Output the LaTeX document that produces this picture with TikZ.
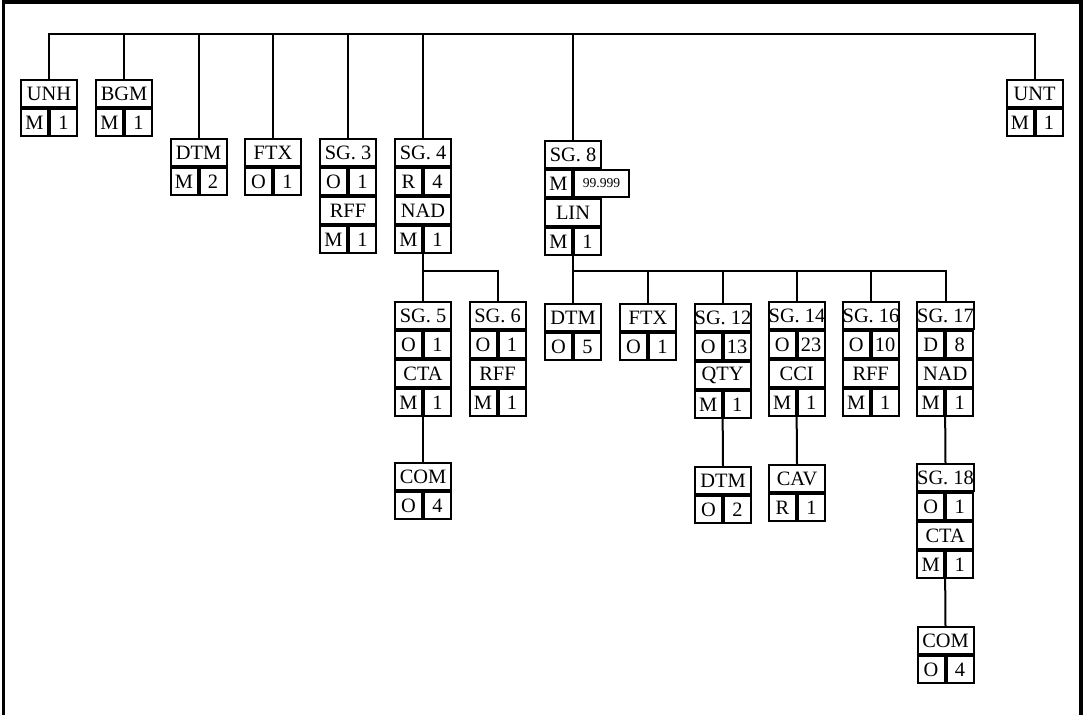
\documentclass[tikz,border=0pt]{standalone}
\usepackage{fontspec}
\setmainfont{Liberation Serif}
\usetikzlibrary{positioning}

\tikzset{
  tag/.style={draw, line width=1pt, minimum width=28pt, minimum height=13.5pt, inner sep=0pt},
  st/.style={draw, line width=1pt, minimum width=13.5pt, minimum height=13.5pt, inner sep=0pt},
  link/.style={line width=1pt},
}
% 段框: 名称 + 状态/次数
\newcommand{\segcell}[5]{%
  \node[tag, #2] (#1) {#3};
  \node[st, below right=0pt of #1.south west] (#1-s) {#4};
  \node[st, right=0pt of #1-s] (#1-r) {#5};}

\begin{document}
\begin{tikzpicture}[x=0.5pt, y=-0.5pt, font=\fontsize{10.2}{11}\selectfont]
  \useasboundingbox (0,0) rectangle (1083,715);
  % 外框
  \draw[line width=1.7pt] (3.3,715) -- (3.3,2) -- (1081,2) -- (1081,715);

  % 顶层段
  \segcell{unh}{at={(49,93.5)}}{UNH}{M}{1}
  \segcell{bgm}{at={(124,93.5)}}{BGM}{M}{1}
  \segcell{dtm}{at={(198.5,152.5)}}{DTM}{M}{2}
  \segcell{ftx}{at={(273,152.5)}}{FTX}{O}{1}
  \segcell{sg3}{at={(348,152.5)}}{SG. 3}{O}{1}
  \segcell{rff3}{below right=0pt of sg3-s.south west}{RFF}{M}{1}
  \segcell{sg4}{at={(423,152.5)}}{SG. 4}{R}{4}
  \segcell{nad4}{below right=0pt of sg4-s.south west}{NAD}{M}{1}
  % SG. 8
  \node[tag] (sg8) at (573,154.5) {SG. 8};
  \node[st, below right=0pt of sg8.south west] (sg8-s) {M};
  \node[st, minimum width=27.5pt, right=0pt of sg8-s, font=\fontsize{6.8}{7}\selectfont] (sg8-r) {99.999};
  \segcell{lin}{below right=0pt of sg8-s.south west}{LIN}{M}{1}
  \segcell{unt}{at={(1034.5,93.5)}}{UNT}{M}{1}

  % 第二层
  \segcell{sg5}{at={(423,315.5)}}{SG. 5}{O}{1}
  \segcell{cta5}{below right=0pt of sg5-s.south west}{CTA}{M}{1}
  \segcell{sg6}{at={(497.5,315.5)}}{SG. 6}{O}{1}
  \segcell{rff6}{below right=0pt of sg6-s.south west}{RFF}{M}{1}
  \segcell{dtm8}{at={(573,317.5)}}{DTM}{O}{5}
  \segcell{ftx8}{at={(648,317.5)}}{FTX}{O}{1}
  \segcell{sg12}{at={(723,317.5)}}{SG. 12}{O}{13}
  \segcell{qty}{below right=0pt of sg12-s.south west}{QTY}{M}{1}
  \segcell{sg14}{at={(797,315.5)}}{SG. 14}{O}{23}
  \segcell{cci}{below right=0pt of sg14-s.south west}{CCI}{M}{1}
  \segcell{sg16}{at={(871,315.5)}}{SG. 16}{O}{10}
  \segcell{rff16}{below right=0pt of sg16-s.south west}{RFF}{M}{1}
  \segcell{sg17}{at={(945.5,315.5)}}{SG. 17}{D}{8}
  \segcell{nad17}{below right=0pt of sg17-s.south west}{NAD}{M}{1}

  % 第三层
  \segcell{com5}{at={(423,476.5)}}{COM}{O}{4}
  \segcell{dtm12}{at={(723,480.5)}}{DTM}{O}{2}
  \segcell{cav}{at={(797,478.5)}}{CAV}{R}{1}
  \segcell{sg18}{at={(945.5,477.5)}}{SG. 18}{O}{1}
  \segcell{cta18}{below right=0pt of sg18-s.south west}{CTA}{M}{1}
  \segcell{com18}{at={(945.5,640.5)}}{COM}{O}{4}

  % 连线
  \coordinate (bus) at (0,34);
  \draw[link] (unh.north) -- (unh.north |- bus) -- (unt.north |- bus) -- (unt.north);
  \foreach \n in {bgm,dtm,ftx,sg3,sg4,sg8}
    \draw[link] (\n.north) -- (\n.north |- bus);

  \coordinate (bus2) at (0,271);
  \draw[link] (nad4-s.south east) -- (sg5.north);
  \draw[link] (sg5.north |- bus2) -| (sg6.north);
  \draw[link] (lin-s.south east) -- (dtm8.north);
  \draw[link] (dtm8.north |- bus2) -| (sg17.north);
  \foreach \n in {ftx8,sg12,sg14,sg16}
    \draw[link] (\n.north) -- (\n.north |- bus2);

  \draw[link] (cta5-s.south east) -- (com5.north);
  \draw[link] (qty-s.south east) -- (dtm12.north);
  \draw[link] (cci-s.south east) -- (cav.north);
  \draw[link] (nad17-s.south east) -- (sg18.north);
  \draw[link] (cta18-s.south east) -- (com18.north);
\end{tikzpicture}
\end{document}
